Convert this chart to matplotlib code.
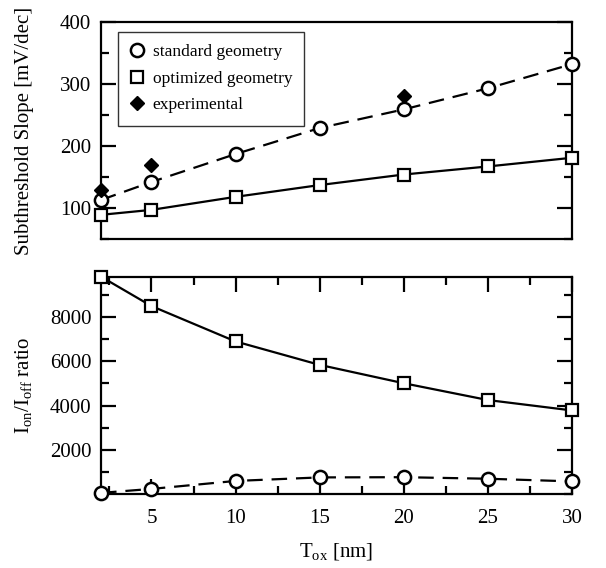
import matplotlib
matplotlib.use("Agg")
import matplotlib.pyplot as plt
from matplotlib.ticker import MultipleLocator

plt.rcParams['font.family'] = ['Liberation Serif', 'DejaVu Serif']
plt.rcParams['mathtext.fontset'] = 'custom'
plt.rcParams['mathtext.rm'] = 'Liberation Serif'
plt.rcParams['mathtext.it'] = 'Liberation Serif:italic'

# oxide thickness [nm]
tox = [2, 5, 10, 15, 20, 25, 30]

# subthreshold slope [mV/dec]
ss_standard = [113, 142, 187, 229, 259, 293, 332]
ss_optimized = [89, 97, 118, 137, 154, 167, 181]
tox_exp = [2, 5, 20]
ss_exp = [129, 169, 280]

# Ion/Ioff ratio
ratio_standard = [50, 230, 590, 750, 760, 690, 570]
ratio_optimized = [9830, 8500, 6900, 5840, 5010, 4250, 3780]

fig = plt.figure(figsize=(6.06, 5.68), dpi=100)
ax1 = fig.add_axes([0.1667, 0.5792, 0.777, 0.3821])
ax2 = fig.add_axes([0.1667, 0.1303, 0.777, 0.3826])

lw = 1.6
ms_c = 9.5
ms_s = 8.5
dash = (7, 4)

ax1.plot(tox, ss_standard, '--', color='black', lw=lw, dashes=dash,
         marker='o', ms=ms_c, mfc='white', mec='black', mew=1.8,
         clip_on=False, zorder=3, label='standard geometry')
ax1.plot(tox, ss_optimized, '-', color='black', lw=lw,
         marker='s', ms=ms_s, mfc='white', mec='black', mew=1.6,
         clip_on=False, zorder=3, label='optimized geometry')
ax1.plot(tox_exp, ss_exp, 'D', color='black', ms=7, ls='none',
         clip_on=False, zorder=4, label='experimental')

ax2.plot(tox, ratio_optimized, '-', color='black', lw=lw,
         marker='s', ms=ms_s, mfc='white', mec='black', mew=1.6,
         clip_on=False, zorder=3)
ax2.plot(tox, ratio_standard, '--', color='black', lw=lw, dashes=dash,
         marker='o', ms=ms_c, mfc='white', mec='black', mew=1.8,
         clip_on=False, zorder=3)

ax1.set_xlim(2, 30)
ax1.set_ylim(50, 400)
ax1.yaxis.set_major_locator(MultipleLocator(100))
ax1.yaxis.set_minor_locator(MultipleLocator(50))
ax1.set_xticks([])
ax1.set_ylabel('Subthreshold Slope [mV/dec]', fontsize=15)

ax2.set_xlim(2, 30)
ax2.set_ylim(0, 9830)
ax2.set_xticks([5, 10, 15, 20, 25, 30])
ax2.xaxis.set_minor_locator(MultipleLocator(2.5))
ax2.set_yticks([2000, 4000, 6000, 8000])
ax2.yaxis.set_minor_locator(MultipleLocator(1000))
ax2.set_ylabel(r'$\mathrm{I_{on}/I_{off}}$ ratio', fontsize=15)
ax2.set_xlabel(r'$\mathrm{T_{ox}}$ [nm]', fontsize=15, labelpad=9)

# both y labels on the same column
ax1.yaxis.set_label_coords(-0.143, 0.5)
ax2.yaxis.set_label_coords(-0.143, 0.5)

for ax in (ax1, ax2):
    for s in ax.spines.values():
        s.set_linewidth(1.6)
    ax.tick_params(which='both', direction='in', top=True, right=True,
                   labelsize=15, width=1.6)
    ax.tick_params(which='major', length=11, pad=7)
    ax.tick_params(which='minor', length=6)
ax1.tick_params(which='both', top=False, bottom=False)
ax2.tick_params(axis='x', which='major', pad=11)

leg = ax1.legend(loc='upper left', fontsize=12.5, frameon=True, fancybox=False,
                 edgecolor='black', borderpad=0.7, labelspacing=0.6,
                 handlelength=0.8, handletextpad=0.5, borderaxespad=0,
                 bbox_to_anchor=(0.036, 0.954))
leg.get_frame().set_linewidth(1.0)
for h in leg.legend_handles:
    h.set_linestyle('none')

fig.savefig('out.png', dpi=100)
